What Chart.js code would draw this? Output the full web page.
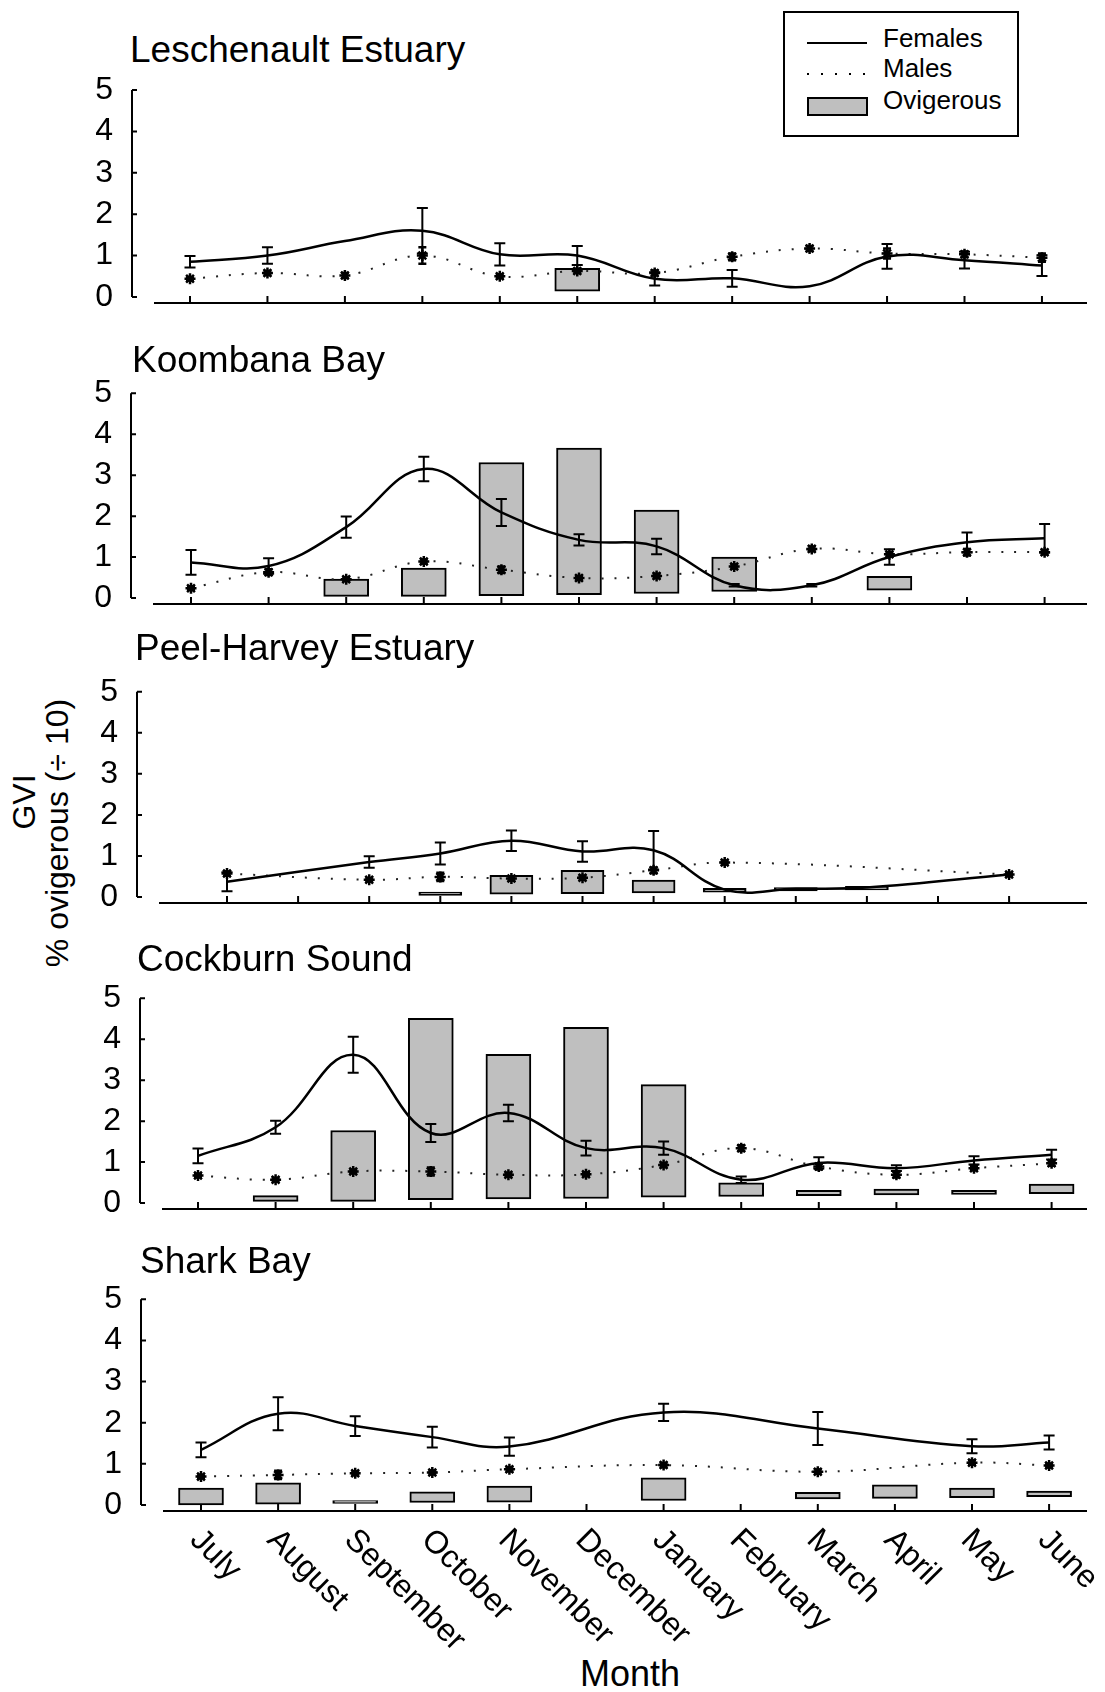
<!DOCTYPE html>
<html>
<head>
<meta charset="utf-8">
<script src="https://cdn.jsdelivr.net/npm/chart.js@4.4.0/dist/chart.umd.min.js"></script>
<style>
body { margin: 0; background: #fff; width: 1105px; height: 1692px; position: relative; overflow: hidden;
       font-family: "Liberation Sans", Arial, sans-serif; color: #000; }
canvas { position: absolute; left: 0; }
.txt { position: absolute; white-space: nowrap; line-height: 1; }
.title { font-size: 37px; }
.rot { position: absolute; white-space: nowrap; font-size: 32px; line-height: 1;
       transform: translate(-50%, -50%) rotate(-90deg); }
#legend { position: absolute; left: 783px; top: 11px; width: 232px; height: 122px; border: 2px solid #000; }
#legend .lab { position: absolute; left: 98px; font-size: 26px; line-height: 30px; }
#legend .sw { position: absolute; left: 22px; width: 60px; }
</style>
</head>
<body>

<div id="legend">
  <div class="sw" style="top:29px;height:0;border-top:2px solid #000;"></div>
  <div class="lab" style="top:10px;">Females</div>
  <div class="sw" style="top:60px;height:2px;background:repeating-linear-gradient(to right,#000 0 2px,transparent 2px 14px);"></div>
  <div class="lab" style="top:40px;">Males</div>
  <div class="sw" style="top:84px;height:15px;width:57px;background:#bfbfbf;border:2px solid #000;"></div>
  <div class="lab" style="top:72px;">Ovigerous</div>
</div>

<div class="rot" style="left:24px;top:802px;">GVI</div>
<div class="rot" style="left:57px;top:833px;">% ovigerous (÷ 10)</div>
<div class="txt" style="left:580px;top:1656px;font-size:36px;">Month</div>

<script>
var months = ['July', 'August', 'September', 'October', 'November', 'December',
              'January', 'February', 'March', 'April', 'May', 'June'];
var yTicks = [0, 1, 2, 3, 4, 5];

// Leschenault Estuary
var lesFemales   = [0.85, 1.0, 1.35, 1.6, 1.03, 1.0, 0.44, 0.45, 0.26, 0.98, 0.89, 0.76];
var lesFemalesSE = [0.14, 0.2, null, 0.55, 0.27, 0.23, 0.16, 0.2, null, 0.3, 0.2, 0.25];
var lesMales     = [0.44, 0.58, 0.52, 1.0, 0.5, 0.63, 0.58, 0.97, 1.17, 1.05, 1.03, 0.95];
var lesMalesSE   = [0.03, 0.05, 0.06, 0.2, 0.04, 0.05, 0.06, 0.08, 0.06, 0.12, 0.07, 0.1];
var lesOvigLow   = [null, null, null, null, null, 0.14, null, null, null, null, null, null];
var lesOvigHigh  = [null, null, null, null, null, 0.69, null, null, null, null, null, null];

// Koombana Bay
var kooFemales   = [0.87, 0.78, 1.73, 3.15, 2.09, 1.42, 1.26, 0.31, 0.31, 1.0, 1.36, 1.46];
var kooFemalesSE = [0.3, 0.19, 0.26, 0.3, 0.33, 0.14, 0.19, 0.03, 0.03, 0.19, 0.24, 0.35];
var kooMales     = [0.24, 0.63, 0.46, 0.89, 0.69, 0.49, 0.54, 0.77, 1.2, 1.07, 1.12, 1.12];
var kooMalesSE   = [0.04, 0.07, 0.04, 0.05, 0.08, 0.05, 0.05, 0.05, 0.06, 0.05, 0.08, 0.05];
var kooOvigLow   = [null, null, 0.04, 0.04, 0.06, 0.08, 0.11, 0.16, null, 0.19, null, null];
var kooOvigHigh  = [null, null, 0.46, 0.73, 3.31, 3.66, 2.15, 1.0, null, 0.53, null, null];

// Peel-Harvey Estuary
var peeFemales   = [0.37, null, 0.85, 1.06, 1.37, 1.11, 1.14, 0.18, 0.2, 0.23, null, 0.55];
var peeFemalesSE = [0.23, null, 0.14, 0.27, 0.25, 0.25, 0.47, null, null, null, null, null];
var peeMales     = [0.57, null, 0.42, 0.49, 0.45, 0.47, 0.65, 0.84, null, null, null, 0.55];
var peeMalesSE   = [0.05, null, 0.03, 0.1, 0.05, 0.05, 0.07, 0.04, null, null, null, 0.03];
var peeOvigLow   = [null, null, null, 0.04, 0.07, 0.08, 0.1, 0.12, 0.15, 0.17, null, null];
var peeOvigHigh  = [null, null, null, 0.12, 0.53, 0.65, 0.41, 0.21, 0.23, 0.26, null, null];

// Cockburn Sound
var cocFemales   = [1.15, 1.85, 3.62, 1.71, 2.2, 1.34, 1.34, 0.57, 0.98, 0.85, 1.04, 1.18];
var cocFemalesSE = [0.18, 0.16, 0.44, 0.22, 0.2, 0.18, 0.16, 0.08, 0.14, 0.07, 0.1, 0.12];
var cocMales     = [0.67, 0.57, 0.77, 0.77, 0.69, 0.7, 0.93, 1.34, 0.89, 0.69, 0.85, 0.97];
var cocMalesSE   = [0.04, 0.04, 0.04, 0.1, 0.04, 0.04, 0.05, 0.07, 0.07, 0.07, 0.05, 0.06];
var cocOvigLow   = [null, 0.04, 0.04, 0.08, 0.1, 0.11, 0.14, 0.16, 0.18, 0.2, 0.21, 0.23];
var cocOvigHigh  = [null, 0.18, 1.77, 4.51, 3.63, 4.29, 2.89, 0.49, 0.31, 0.34, 0.31, 0.46];

// Shark Bay
var shaFemales   = [1.34, 2.22, 1.92, 1.65, 1.42, null, 2.25, null, 1.86, null, 1.43, 1.52];
var shaFemalesSE = [0.18, 0.4, 0.24, 0.25, 0.22, null, 0.21, null, 0.4, null, 0.17, 0.17];
var shaMales     = [0.69, 0.73, 0.77, 0.79, 0.87, null, 0.97, null, 0.81, null, 1.03, 0.96];
var shaMalesSE   = [0.03, 0.1, 0.04, 0.04, 0.05, null, 0.05, null, 0.05, null, 0.05, 0.04];
var shaOvigLow   = [0.0, 0.02, 0.04, 0.06, 0.07, null, 0.11, null, 0.15, 0.16, 0.18, 0.2];
var shaOvigHigh  = [0.41, 0.54, 0.11, 0.32, 0.46, null, 0.66, null, 0.31, 0.49, 0.41, 0.34];

// page placement of each panel (pixels): y of 5 and 0, y-axis x, July x, month step
var panels = [
  { title: 'Leschenault Estuary', fem: lesFemales, femSE: lesFemalesSE, male: lesMales, maleSE: lesMalesSE,
    lo: lesOvigLow, hi: lesOvigHigh, top: 90, zero: 296.7, axisX: 132, firstX: 190, stepX: 77.45, barW: 45, titleX: 130, titleBase: 62 },
  { title: 'Koombana Bay', fem: kooFemales, femSE: kooFemalesSE, male: kooMales, maleSE: kooMalesSE,
    lo: kooOvigLow, hi: kooOvigHigh, top: 393.3, zero: 598.3, axisX: 131, firstX: 191, stepX: 77.6, barW: 45, titleX: 132, titleBase: 372 },
  { title: 'Peel-Harvey Estuary', fem: peeFemales, femSE: peeFemalesSE, male: peeMales, maleSE: peeMalesSE,
    lo: peeOvigLow, hi: peeOvigHigh, top: 691.7, zero: 897, axisX: 137, firstX: 227, stepX: 71.1, barW: 43, titleX: 135, titleBase: 660 },
  { title: 'Cockburn Sound', fem: cocFemales, femSE: cocFemalesSE, male: cocMales, maleSE: cocMalesSE,
    lo: cocOvigLow, hi: cocOvigHigh, top: 998.3, zero: 1203.3, axisX: 140, firstX: 198, stepX: 77.6, barW: 45, titleX: 137, titleBase: 971 },
  { title: 'Shark Bay', fem: shaFemales, femSE: shaFemalesSE, male: shaMales, maleSE: shaMalesSE,
    lo: shaOvigLow, hi: shaOvigHigh, top: 1299.3, zero: 1505, axisX: 141, firstX: 201, stepX: 77.1, barW: 45, titleX: 140, titleBase: 1273 }
];

Chart.defaults.font.family = '"Liberation Sans", Arial, sans-serif';
Chart.defaults.color = '#000';

function points(vals) {
  var out = [];
  vals.forEach(function (v, i) { if (v !== null) out.push({ x: i, y: v }); });
  return out;
}

function bars(lo, hi) {
  var out = [];
  lo.forEach(function (v, i) { if (v !== null) out.push({ x: i, y: [v, hi[i]] }); });
  return out;
}

// axes lines, error bars and rotated month labels
var extras = {
  id: 'extras',
  afterDatasetsDraw: function (chart, args, opts) {
    var ctx = chart.ctx, xs = chart.scales.x, ys = chart.scales.y, area = chart.chartArea;
    ctx.save();
    ctx.strokeStyle = '#000';
    ctx.lineWidth = 2;
    ctx.beginPath();
    ctx.moveTo(area.left, ys.getPixelForValue(5));
    ctx.lineTo(area.left, ys.getPixelForValue(0));
    yTicks.forEach(function (v) {
      var y = ys.getPixelForValue(v);
      ctx.moveTo(area.left, y);
      ctx.lineTo(area.left + 5, y);
    });
    var ax = area.bottom;
    ctx.moveTo(area.left + 22, ax);
    ctx.lineTo(area.right, ax);
    months.forEach(function (m, i) {
      var x = xs.getPixelForValue(i);
      ctx.moveTo(x, ax);
      ctx.lineTo(x, ax - 7);
    });
    ctx.stroke();

    chart.data.datasets.forEach(function (ds) {
      if (!ds.se) return;
      ctx.lineWidth = ds.capW > 9 ? 2 : 2.5;
      ctx.beginPath();
      ds.data.forEach(function (pt) {
        var e = ds.se[pt.x];
        if (e === null || e === undefined) return;
        var x = xs.getPixelForValue(pt.x);
        var y1 = ys.getPixelForValue(pt.y + e), y2 = ys.getPixelForValue(pt.y - e);
        var c = ds.capW / 2;
        ctx.moveTo(x, y1); ctx.lineTo(x, y2);
        ctx.moveTo(x - c, y1); ctx.lineTo(x + c, y1);
        ctx.moveTo(x - c, y2); ctx.lineTo(x + c, y2);
      });
      ctx.stroke();
    });

    if (opts.labels) {
      ctx.fillStyle = '#000';
      ctx.font = '32px "Liberation Sans", Arial, sans-serif';
      ctx.textAlign = 'left';
      ctx.textBaseline = 'middle';
      months.forEach(function (m, i) {
        var x = xs.getPixelForValue(i);
        ctx.save();
        ctx.translate(x - 6, ax + 24);
        ctx.rotate(Math.PI / 4);
        ctx.fillText(m, 0, 0);
        ctx.restore();
      });
    }
    ctx.restore();
  }
};

panels.forEach(function (p, k) {
  var last = k === panels.length - 1;
  var unit = (p.zero - p.top) / 5;
  var padTop = 46;
  var below = 6;
  var xH = last ? Math.round(1692 - (p.zero + below)) : 46;
  var canvasTop = Math.round(p.top - padTop);
  padTop = p.top - canvasTop;
  var canvasH = Math.round(p.zero + below - canvasTop + xH);

  var t = document.createElement('div');
  t.className = 'txt title';
  t.style.left = p.titleX + 'px';
  t.style.top = (p.titleBase - 0.8465 * 37) + 'px';
  t.textContent = p.title;
  document.body.appendChild(t);

  var cv = document.createElement('canvas');
  cv.width = 1105;
  cv.height = canvasH;
  cv.style.top = canvasTop + 'px';
  document.body.appendChild(cv);

  new Chart(cv, {
    type: 'bar',
    data: {
      datasets: [
        { type: 'line', data: points(p.fem), se: p.femSE, capW: 11, borderColor: '#000', borderWidth: 2.5,
          tension: 0.4, pointRadius: 0, fill: false, order: 1 },
        { type: 'line', data: points(p.male), se: p.maleSE, capW: 8, borderColor: '#222', borderWidth: 2,
          borderDash: [2, 11], tension: 0.4, pointStyle: 'star', pointRadius: 5.5, pointBorderWidth: 2.5,
          pointBorderColor: '#000', pointBackgroundColor: '#000', fill: false, order: 2 },
        { type: 'bar', data: bars(p.lo, p.hi), backgroundColor: '#bfbfbf', borderColor: '#000',
          borderWidth: 2, borderSkipped: false, barThickness: p.barW, order: 3 }
      ]
    },
    options: {
      responsive: false,
      animation: false,
      events: [],
      layout: { padding: { left: 0, right: 18, top: padTop, bottom: 0 } },
      scales: {
        x: {
          type: 'linear', offset: false,
          min: (p.axisX - p.firstX) / p.stepX,
          max: (1087 - p.firstX) / p.stepX,
          ticks: { display: false },
          grid: { display: false, drawTicks: false },
          border: { display: false },
          afterFit: function (s) { s.height = xH; }
        },
        y: {
          min: -below / unit, max: 5,
          afterBuildTicks: function (s) { s.ticks = yTicks.map(function (v) { return { value: v }; }); },
          ticks: { font: { size: 32 }, color: '#000', padding: 19, autoSkip: false },
          grid: { display: false, drawTicks: false },
          border: { display: false },
          afterFit: function (s) { s.width = p.axisX; }
        }
      },
      plugins: {
        legend: { display: false },
        tooltip: { enabled: false },
        extras: { labels: last }
      }
    },
    plugins: [extras]
  });
});
</script>
</body>
</html>
